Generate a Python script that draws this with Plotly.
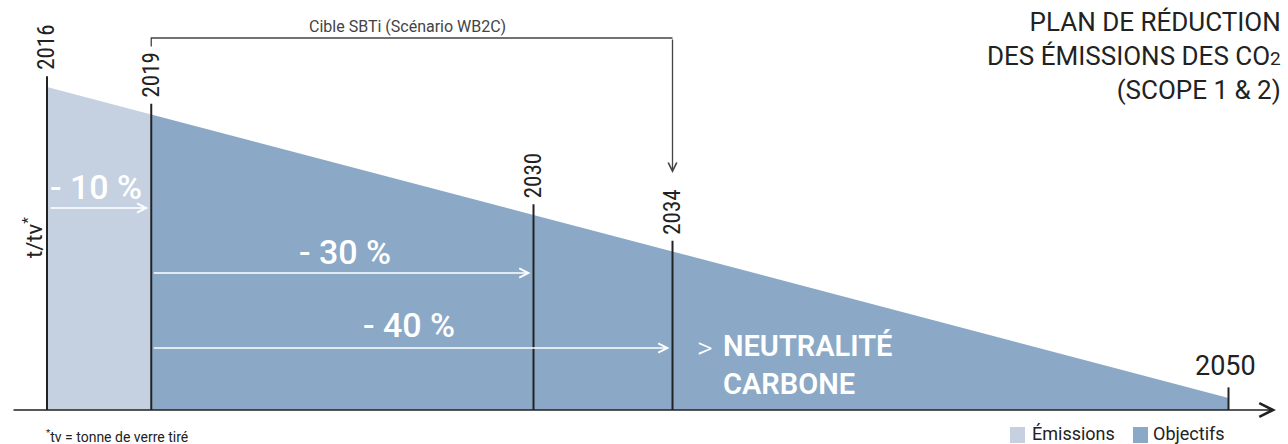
import plotly.graph_objects as go

# ---------------- data ----------------
years = [2016, 2019, 2030, 2034, 2050]
year_labels = ["2016", "2019", "2030", "2034", "2050"]
values = [100, 91.5, 60.4, 49.1, 3.7]          # t/tv index (2016 = 100)

emission_years = [2016, 2019]
emission_values = [100, 91.5]
objective_years = [2019, 2030, 2034, 2050]
objective_values = [91.5, 60.4, 49.1, 3.7]

reduction_labels = ["- 10 %", "- 30 %", "- 40 %"]
reduction_starts = [2016, 2019, 2019]
reduction_targets = [2019, 2030, 2034]

sbti_start, sbti_end = 2019, 2034
legend_labels = ["Émissions", "Objectifs"]

# ---------------- styling / layout constants ----------------
W, H = 1288, 444
X0, PPY = 47, 34.75        # pixel of 2016, pixels per year
BASE, PPU = 410, 3.23      # baseline pixel, pixels per unit
LIGHT = "#C5D1E1"
DARK = "#8BA9C7"
INK = "#222222"
FONT = "Roboto"
NARROW = "Liberation Sans Narrow, Roboto Condensed, Roboto"


def dx(px):
    return 2016 + (px - X0) / PPY


def dy(py):
    return (BASE - py) / PPU


fig = go.Figure()

fig.add_trace(go.Scatter(x=emission_years, y=emission_values, fill="tozeroy",
                         fillcolor=LIGHT, mode="none", hoverinfo="skip",
                         showlegend=False))
fig.add_trace(go.Scatter(x=objective_years, y=objective_values, fill="tozeroy",
                         fillcolor=DARK, mode="none", hoverinfo="skip",
                         showlegend=False))

# vertical year markers
vx, vy = [], []
tops = []
for yr, v in zip(years, values):
    top = v + 3.3
    tops.append(top)
    vx += [yr, yr, None]
    vy += [0, top, None]
fig.add_trace(go.Scatter(x=vx, y=vy, mode="lines", line=dict(color=INK, width=2),
                         hoverinfo="skip", showlegend=False))

# SBTi bracket
fig.add_trace(go.Scatter(x=[sbti_start, sbti_start, sbti_end],
                         y=[dy(46.5), dy(38), dy(38)], mode="lines",
                         line=dict(color="#444444", width=1.3),
                         hoverinfo="skip", showlegend=False))

ann = []
# bracket arrow down to 2034
ann.append(dict(x=sbti_end, y=dy(173), ax=sbti_end, ay=dy(38), xref="x", yref="y",
                axref="x", ayref="y", showarrow=True, arrowhead=5, arrowsize=1.3,
                arrowwidth=1.3, arrowcolor="#444444", text="", standoff=0))
ann.append(dict(x=dx(407), y=dy(26), xref="x", yref="y", showarrow=False,
                text="Cible SBTi (Scénario WB2C)",
                font=dict(family=FONT, size=16, color="#444444")))

# year labels
for yr, lab, top in zip(years[:-1], year_labels[:-1], tops[:-1]):
    ann.append(dict(x=yr, y=top, xref="x", yref="y", showarrow=False, text=lab,
                    textangle=-90, yanchor="bottom", xanchor="center", yshift=4,
                    font=dict(family=NARROW, size=23, color=INK)))
ann.append(dict(x=years[-1], y=dy(366), xref="x", yref="y", showarrow=False,
                text=year_labels[-1], xshift=-3,
                font=dict(family=FONT, size=27, color=INK)))

# reduction arrows and labels
arrow_py = [208, 273, 348]
label_pos = [(96, 187), (345, 252), (409, 325)]
for s, t, apy, lab, (lx, ly) in zip(reduction_starts, reduction_targets, arrow_py,
                                     reduction_labels, label_pos):
    ann.append(dict(x=t, y=dy(apy), ax=s, ay=dy(apy), xref="x", yref="y",
                    axref="x", ayref="y", showarrow=True, arrowhead=5,
                    arrowsize=1.3, arrowwidth=1.4, arrowcolor="white", text="",
                    standoff=3, startstandoff=2 if s == 2016 else 1))
    ann.append(dict(x=dx(lx), y=dy(ly), xref="x", yref="y", showarrow=False,
                    text=lab,
                    font=dict(family=FONT, size=34, color="white", weight=500)))

# neutralité carbone
ann.append(dict(x=dx(705), y=dy(347), xref="x", yref="y", showarrow=False,
                text=">", font=dict(family=FONT, size=30, color="white",
                                    weight=300)))
ann.append(dict(x=dx(721), y=dy(365), xref="x", yref="y", showarrow=False,
                xanchor="left", yanchor="middle", align="left",
                text="NEUTRALITÉ<br>CARBONE",
                font=dict(family=FONT, size=29, color="white", weight=600)))

# x axis arrow
ann.append(dict(x=dx(1276), y=0, ax=dx(12), ay=0, xref="x", yref="y",
                axref="x", ayref="y", showarrow=True, arrowhead=5, arrowsize=1.8,
                arrowwidth=1.5, arrowcolor=INK, text="", standoff=0))

# y label
ann.append(dict(x=dx(33), y=dy(238), xref="x", yref="y", showarrow=False,
                text="t/tv<sup>*</sup>", textangle=-90,
                font=dict(family=FONT, size=22, color=INK)))

# title
ann.append(dict(x=1283 / W, y=1 - 5 / H, xref="paper", yref="paper",
                xanchor="right", yanchor="top", align="right", showarrow=False,
                text="PLAN DE RÉDUCTION<br>DES ÉMISSIONS DES CO<span style='font-size:19px'>2</span><br>(SCOPE 1 & 2)",
                font=dict(family=FONT, size=26, color=INK)))

# footnote
ann.append(dict(x=44 / W, y=1 - 436 / H, xref="paper", yref="paper",
                xanchor="left", yanchor="middle", showarrow=False,
                text="<sup>*</sup>tv = tonne de verre tiré",
                font=dict(family=FONT, size=14, color=INK)))

# custom legend
shapes = []
for (x0, x1), col, lab, tx in zip([(1010, 1025), (1133, 1148)], [LIGHT, DARK],
                                  legend_labels, [1030, 1151]):
    shapes.append(dict(type="rect", xref="paper", yref="paper", x0=x0 / W,
                       x1=x1 / W, y0=1 - 443 / H, y1=1 - 427 / H,
                       fillcolor=col, line=dict(width=0)))
    ann.append(dict(x=tx / W, y=1 - 433 / H, xref="paper", yref="paper",
                    xanchor="left", yanchor="middle", showarrow=False, text=lab,
                    font=dict(family=FONT, size=18, color=INK)))

fig.update_layout(
    width=W, height=H, margin=dict(l=0, r=0, t=0, b=0),
    paper_bgcolor="white", plot_bgcolor="white",
    xaxis=dict(range=[2016 - X0 / PPY, 2016 + (W - X0) / PPY], visible=False,
               fixedrange=True),
    yaxis=dict(range=[-(H - BASE) / PPU, BASE / PPU], visible=False,
               fixedrange=True),
    annotations=ann, shapes=shapes, showlegend=False,
)

fig.write_html("out.html", config={"displayModeBar": False})
